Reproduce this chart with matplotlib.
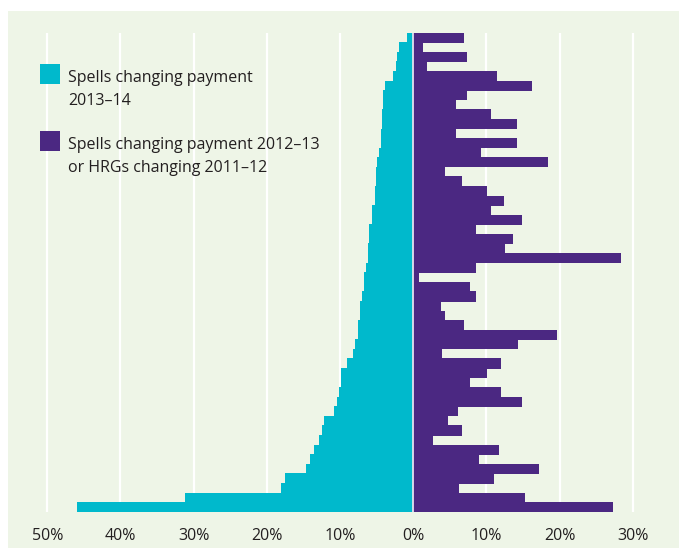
import matplotlib
matplotlib.use("Agg")
import matplotlib.pyplot as plt
from matplotlib.patches import Rectangle
import numpy as np

plt.rcParams['font.family'] = ['Open Sans', 'DejaVu Sans']

# Share of spells (%) per row, top to bottom
spells_2013_14 = [0.85, 1.94, 2.2, 2.35, 2.76, 3.85, 4.13, 4.13, 4.27, 4.27,
                  4.4, 4.4, 4.67, 4.95, 5.08, 5.08, 5.22, 5.22, 5.63, 5.63,
                  6.04, 6.04, 6.18, 6.18, 6.45, 6.72, 6.72, 7.0, 7.27, 7.27,
                  7.54, 7.54, 7.95, 8.22, 9.04, 9.86, 9.86, 10.14, 10.41, 10.82,
                  12.19, 12.46, 12.87, 13.56, 14.1, 14.65, 17.5, 18.1, 31.2, 45.9]
spells_prior = [6.9, 1.34, 7.4, 1.9, 11.45, 16.2, 7.4, 5.85, 10.6, 14.2,
                5.85, 14.2, 9.26, 18.4, 4.35, 6.67, 10.1, 12.4, 10.6, 14.9,
                8.6, 13.7, 12.6, 28.4, 8.6, 0.8, 7.76, 8.6, 3.8, 4.35,
                6.9, 19.6, 14.35, 3.94, 12.0, 10.1, 7.76, 12.0, 14.8, 6.1,
                4.76, 6.67, 2.7, 11.7, 9.0, 17.2, 11.0, 6.3, 15.3, 27.3]
tick_values = [-50, -40, -30, -20, -10, 0, 10, 20, 30]
tick_labels = ['50%', '40%', '30%', '20%', '10%', '0%', '10%', '20%', '30%']
legend_cyan = ['Spells changing payment', '2013\u201314']
legend_purple = ['Spells changing payment 2012\u201313', 'or HRGs changing 2011\u201312']

CYAN = '#00B9CC'
PURPLE = '#4B2882'
PANEL = '#EEF5E7'
TEXT = '#231F20'

W, H = 679, 551
fig = plt.figure(figsize=(W / 100, H / 100), dpi=100)
fig.patch.set_facecolor('white')

def fx(px):
    return px / W

def fy(py):
    return 1 - py / H

# panel background
fig.patches.append(Rectangle((fx(8), fy(548)), fx(679) - fx(8), fy(11) - fy(548),
                             transform=fig.transFigure, facecolor=PANEL,
                             edgecolor='none', zorder=-5))

ax = fig.add_axes([fx(8), fy(512), fx(679) - fx(8), fy(33) - fy(512)])
ax.set_facecolor('none')
ax.set_zorder(1)

scale = 7.318
zero_px = 413.2
ax.set_xlim((8 - zero_px) / scale, (679 - zero_px) / scale)

n = len(spells_2013_14)
y = np.arange(n)
ax.set_ylim(n - 0.5, -0.5)

for v in tick_values:
    if v != 0:
        ax.axvline(v, color='white', lw=1.6, zorder=1)

# bars drawn top-down so overlapping slivers stay consistent
for i in range(n):
    ax.barh(y[i], -spells_2013_14[i], height=1.06, color=CYAN,
            edgecolor='none', zorder=2)
    ax.barh(y[i], spells_prior[i], height=1.06, color=PURPLE,
            edgecolor='none', zorder=2)
ax.axvline(0, color='#E4E0EE', lw=1.3, zorder=3)
ax.set_ylim(n - 0.5, -0.5)

for s in ax.spines.values():
    s.set_visible(False)
ax.set_yticks([])
ax.set_xticks(tick_values)
ax.set_xticklabels(tick_labels, fontsize=11.5, color=TEXT)
ax.tick_params(axis='x', length=0, pad=11.5)

# legend
fig.patches.append(Rectangle((fx(40), fy(84)), fx(20), fy(64) - fy(84),
                             transform=fig.transFigure, facecolor=CYAN,
                             edgecolor='none', zorder=5))
fig.patches.append(Rectangle((fx(40), fy(151)), fx(20), fy(131) - fy(151),
                             transform=fig.transFigure, facecolor=PURPLE,
                             edgecolor='none', zorder=5))
for txt, by in zip(legend_cyan, [82, 105]):
    fig.text(fx(68), fy(by), txt, fontsize=11.5, color=TEXT, va='baseline', ha='left', zorder=5)
for txt, by in zip(legend_purple, [149.5, 172]):
    fig.text(fx(68), fy(by), txt, fontsize=11.5, color=TEXT, va='baseline', ha='left', zorder=5)

fig.savefig('out.png', dpi=100)
